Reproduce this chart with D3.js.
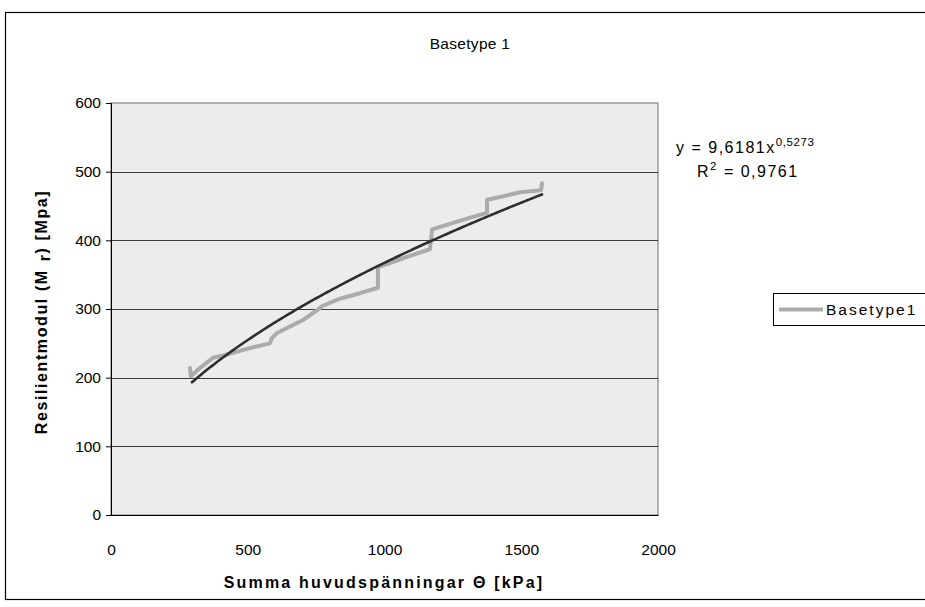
<!DOCTYPE html>
<html>
<head>
<meta charset="utf-8">
<script src="https://cdn.jsdelivr.net/npm/d3@7"></script>
<style>
  html, body { margin: 0; padding: 0; background: #fff; }
  svg { display: block; }
  text { font-family: "Liberation Sans", Arial, sans-serif; fill: #000; }
</style>
</head>
<body>
<svg id="chart" width="925" height="607"></svg>
<script>
// Measured series: total principal stress (kPa) vs resilient modulus (MPa)
const thetaKPa = [289, 292, 325, 373, 417, 497, 581, 589, 607, 702, 757, 771, 837, 910, 976, 976,
                  1020, 1082, 1166, 1174, 1239, 1313, 1375, 1375, 1422, 1495, 1572, 1576];
const modulusMPa = [214, 202, 214, 229, 233, 242, 250, 258, 265, 284, 299, 304, 315, 323, 331, 361,
                    367, 376, 387, 416, 424, 433, 440, 459, 463, 470, 473, 483];

// Power trendline y = a * x^b
const trendA = 9.6181;
const trendB = 0.5273;
const trendR2 = 0.9761;
const trendFrom = 296, trendTo = 1578;

const xTicks = [0, 500, 1000, 1500, 2000];
const yTicks = [0, 100, 200, 300, 400, 500, 600];

const chartTitle = "Basetype 1";
const seriesName = "Basetype1";

const svg = d3.select("#chart");

// outer chart frame
svg.append("rect")
  .attr("x", 5.5).attr("y", 12.5).attr("width", 940).attr("height", 587)
  .attr("fill", "#fff").attr("stroke", "#000").attr("stroke-width", 1.2);

const plot = { left: 111, right: 658, top: 103, bottom: 515 };

const x = d3.scaleLinear().domain([0, 2000]).range([plot.left, plot.right]);
const y = d3.scaleLinear().domain([0, 600]).range([plot.bottom, plot.top]);

// plot background
svg.append("rect")
  .attr("x", plot.left).attr("y", plot.top)
  .attr("width", plot.right - plot.left).attr("height", plot.bottom - plot.top)
  .attr("fill", "#ececec").attr("stroke", "#8c8c8c").attr("stroke-width", 1.3);

// horizontal gridlines
svg.append("g")
  .selectAll("line")
  .data(yTicks.filter(d => d > 0 && d < 600))
  .join("line")
  .attr("x1", plot.left).attr("x2", plot.right)
  .attr("y1", d => Math.round(y(d)) + 0.5).attr("y2", d => Math.round(y(d)) + 0.5)
  .attr("stroke", "#3c3c3c").attr("stroke-width", 1.1);

// y axis
const yAxis = d3.axisLeft(y).tickValues(yTicks).tickSize(5).tickPadding(5).tickFormat(d3.format("d"));
const gy = svg.append("g").attr("transform", `translate(${plot.left},0)`).call(yAxis);
gy.select(".domain").attr("stroke", "#000");
gy.selectAll(".tick line").attr("stroke", "#000");
gy.selectAll(".tick text")
  .style("font-family", "'Liberation Sans', Arial, sans-serif")
  .style("font-size", "15.5px").attr("fill", "#000");

// x axis
const xAxis = d3.axisBottom(x).tickValues(xTicks).tickSize(0).tickPadding(27).tickFormat(d3.format("d"));
const gx = svg.append("g").attr("transform", `translate(0,${plot.bottom})`).call(xAxis);
gx.select(".domain").attr("stroke", "#000");
gx.selectAll(".tick text")
  .style("font-family", "'Liberation Sans', Arial, sans-serif")
  .style("font-size", "15.5px").attr("fill", "#000");
gx.selectAll(".tick text").attr("dy", null).attr("y", 40);

// measured series
const pts = thetaKPa.map((t, i) => [t, modulusMPa[i]]);
const line = d3.line().x(d => x(d[0])).y(d => y(d[1]));
svg.append("path")
  .datum(pts)
  .attr("d", line)
  .attr("fill", "none")
  .attr("stroke", "#ababab")
  .attr("stroke-width", 4)
  .attr("stroke-linejoin", "round")
  .attr("stroke-linecap", "round");

// power trendline
const trendPts = d3.range(trendFrom, trendTo + 1, 8).map(t => [t, trendA * Math.pow(t, trendB)]);
svg.append("path")
  .datum(trendPts)
  .attr("d", line)
  .attr("fill", "none")
  .attr("stroke", "#2e2e2e")
  .attr("stroke-width", 2.6)
  .attr("stroke-linecap", "round");

// title
svg.append("text")
  .attr("x", 470).attr("y", 49)
  .attr("text-anchor", "middle")
  .style("font-size", "15.5px").style("letter-spacing", "0.3px")
  .text(chartTitle);

// trendline equation
const eq = svg.append("text").attr("x", 676).attr("y", 153)
  .style("font-size", "16px").style("letter-spacing", "1.5px");
eq.append("tspan").text("y = " + String(trendA).replace(".", ",") + "x");
eq.append("tspan").attr("dy", -7).style("font-size", "11.5px").style("letter-spacing", "0.6px")
  .text(String(trendB).replace(".", ","));
const r2 = svg.append("text").attr("x", 697).attr("y", 177)
  .style("font-size", "16px").style("letter-spacing", "1.5px");
r2.append("tspan").text("R");
r2.append("tspan").attr("dy", -7).style("font-size", "11.5px").text("2");
r2.append("tspan").attr("dy", 7).text(" = " + String(trendR2).replace(".", ","));

// legend
svg.append("rect")
  .attr("x", 773.5).attr("y", 293.5).attr("width", 170).attr("height", 32)
  .attr("fill", "#fff").attr("stroke", "#000").attr("stroke-width", 1);
svg.append("line")
  .attr("x1", 779).attr("x2", 823).attr("y1", 309.5).attr("y2", 309.5)
  .attr("stroke", "#ababab").attr("stroke-width", 4);
svg.append("text")
  .attr("x", 826).attr("y", 315)
  .style("font-size", "15.5px").style("letter-spacing", "2px")
  .text(seriesName);

// axis titles
svg.append("text")
  .attr("x", 384).attr("y", 588)
  .attr("text-anchor", "middle")
  .style("font-size", "16px").style("font-weight", "bold").style("letter-spacing", "2.2px")
  .text("Summa huvudspänningar Θ [kPa]");

const yl = svg.append("text")
  .attr("transform", "translate(47,312) rotate(-90)")
  .attr("text-anchor", "middle")
  .style("font-size", "16px").style("font-weight", "bold").style("letter-spacing", "1.6px");
yl.append("tspan").text("Resilientmodul (M");
yl.append("tspan").attr("dx", 8).attr("dy", 3).text("r");
yl.append("tspan").attr("dy", -3).text(") [Mpa]");
</script>
</body>
</html>
